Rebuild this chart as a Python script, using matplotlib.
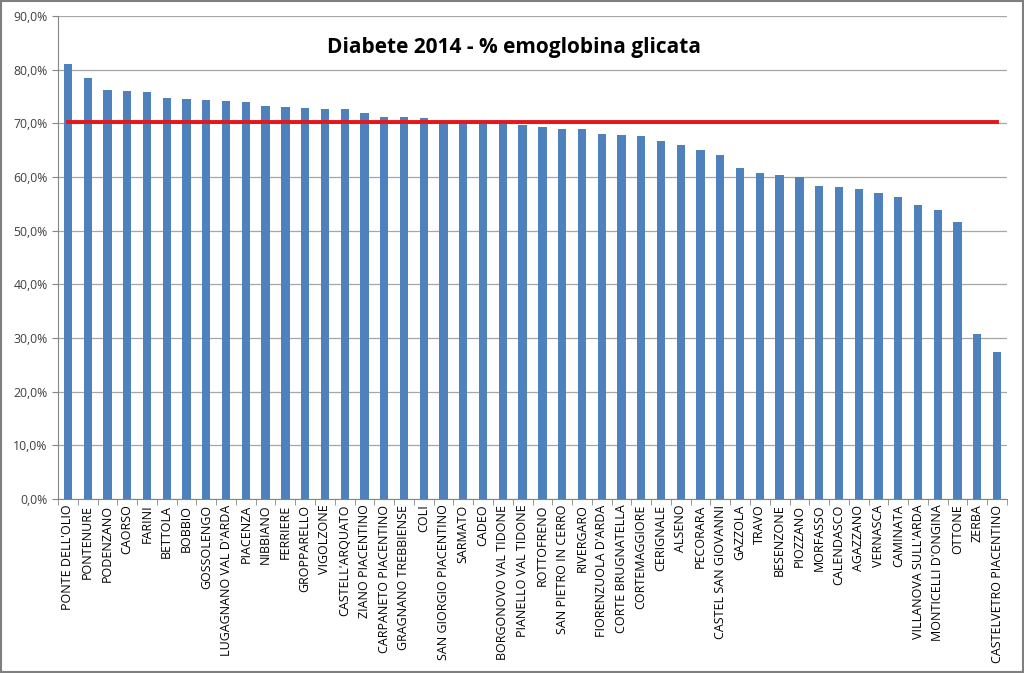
import matplotlib.pyplot as plt
import numpy as np
from matplotlib.ticker import FuncFormatter

plt.rcParams["font.family"] = ["Open Sans", "DejaVu Sans"]

# ============================================================
# Data
# ============================================================
comuni = [
    "PONTE DELL'OLIO", "PONTENURE", "PODENZANO", "CAORSO", "FARINI",
    "BETTOLA", "BOBBIO", "GOSSOLENGO", "LUGAGNANO VAL D'ARDA", "PIACENZA",
    "NIBBIANO", "FERRIERE", "GROPPARELLO", "VIGOLZONE", "CASTELL'ARQUATO",
    "ZIANO PIACENTINO", "CARPANETO PIACENTINO", "GRAGNANO TREBBIENSE", "COLI",
    "SAN GIORGIO PIACENTINO", "SARMATO", "CADEO", "BORGONOVO VAL TIDONE",
    "PIANELLO VAL TIDONE", "ROTTOFRENO", "SAN PIETRO IN CERRO", "RIVERGARO",
    "FIORENZUOLA D'ARDA", "CORTE BRUGNATELLA", "CORTEMAGGIORE", "CERIGNALE",
    "ALSENO", "PECORARA", "CASTEL SAN GIOVANNI", "GAZZOLA", "TRAVO",
    "BESENZONE", "PIOZZANO", "MORFASSO", "CALENDASCO", "AGAZZANO", "VERNASCA",
    "CAMINATA", "VILLANOVA SULL'ARDA", "MONTICELLI D'ONGINA", "OTTONE",
    "ZERBA", "CASTELVETRO PIACENTINO",
]

percentuali = [
    81.0, 78.4, 76.2, 76.0, 75.9, 74.7, 74.5, 74.3, 74.2, 74.0,
    73.2, 73.0, 72.8, 72.7, 72.6, 71.9, 71.2, 71.1, 71.0, 70.2,
    70.1, 70.0, 69.8, 69.6, 69.4, 69.0, 68.9, 68.1, 67.9, 67.6,
    66.7, 65.9, 65.1, 64.1, 61.7, 60.7, 60.3, 60.0, 58.3, 58.2,
    57.8, 57.0, 56.2, 54.8, 53.9, 51.7, 30.7, 27.3,
]

media = 70.3

# ============================================================
# Plot
# ============================================================
fig = plt.figure(figsize=(10.24, 6.73), dpi=100)
ax = fig.add_axes([58 / 1024, 1 - 499 / 673, 949 / 1024, 483 / 673])

x = np.arange(len(comuni))
ax.bar(x, percentuali, width=0.42, color="#4F81BD", zorder=2)
ax.plot(x, [media] * len(x), color="#E3171C", linewidth=2.8, zorder=3)

ax.set_xlim(-0.5, len(comuni) - 0.5)
ax.set_ylim(0, 90)
ax.set_yticks(np.arange(0, 91, 10))
ax.yaxis.set_major_formatter(FuncFormatter(lambda v, p: f"{v:.1f}%".replace(".", ",")))
ax.grid(axis="y", color="#A6A6A6", linewidth=0.9, zorder=0)

ax.set_xticks(x)
ax.set_xticklabels(comuni, rotation=90, fontsize=9)
ax.set_xticks(np.arange(-0.5, len(comuni)), minor=True)
ax.tick_params(axis="x", which="major", length=0, pad=4)
ax.tick_params(axis="x", which="minor", length=4, color="#868686")
ax.tick_params(axis="y", length=4, color="#868686", labelsize=8.8, labelcolor="#404040")

for s in ["top", "right"]:
    ax.spines[s].set_visible(False)
ax.spines["left"].set_color("#868686")
ax.spines["bottom"].set_color("#868686")

ax.text(0.48, 0.935, "Diabete 2014 - % emoglobina glicata", transform=ax.transAxes,
        ha="center", va="center", fontsize=15, fontweight="bold")

fig.patches.append(plt.Rectangle((0.001, 0.001), 0.998, 0.998, transform=fig.transFigure,
                                 fill=False, edgecolor="#7F7F7F", linewidth=1.5))

plt.savefig("out.png", dpi=100)
